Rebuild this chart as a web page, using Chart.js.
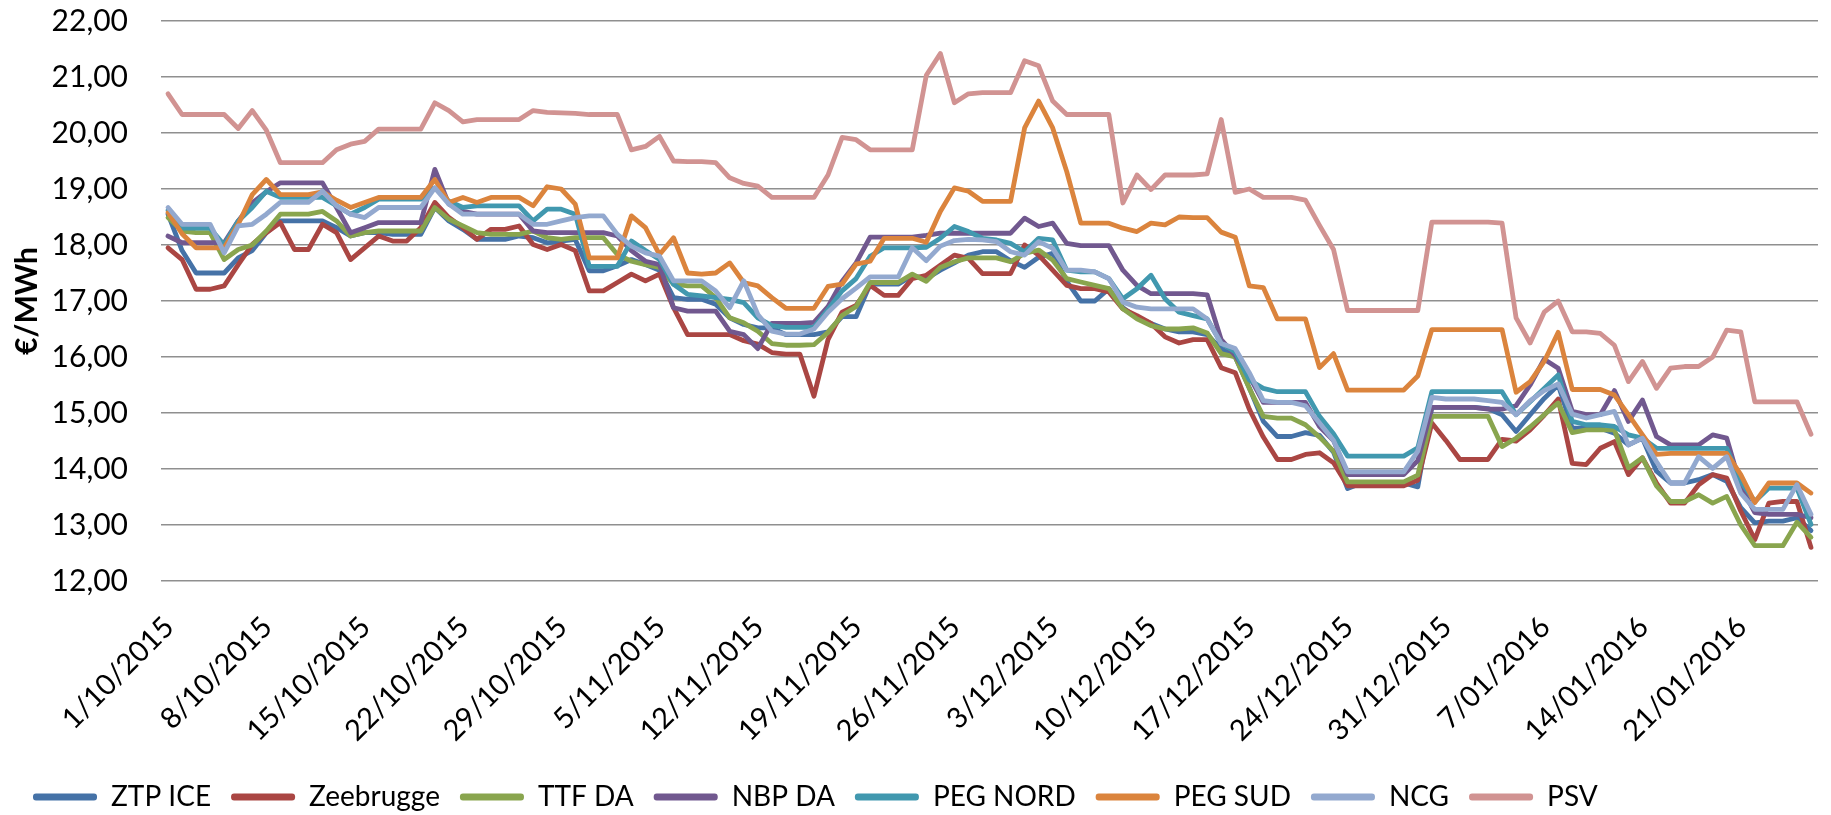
<!DOCTYPE html>
<html>
<head>
<meta charset="utf-8">
<script src="https://cdn.jsdelivr.net/npm/chart.js@4.4.1/dist/chart.umd.min.js"></script>
<style>
  html, body { margin: 0; padding: 0; background: #fff; }
  #prix { display: block; }
</style>
</head>
<body>
<canvas id="prix" width="1831" height="815"></canvas>
<script>
// one category per day, 1/10/2015 -> 26/01/2016
var jours = [];
var d = new Date(2015, 9, 1);
for (var k = 0; k < 118; k++) {
  jours.push(d.getDate() + "/" + String(d.getMonth() + 1).padStart(2, "0") + "/" + d.getFullYear());
  d.setDate(d.getDate() + 1);
}

var yTicks = [12, 13, 14, 15, 16, 17, 18, 19, 20, 21, 22];

var noms = ["ZTP ICE", "Zeebrugge", "TTF DA", "NBP DA", "PEG NORD", "PEG SUD", "NCG", "PSV"];
var couleurs = ["#4572A7", "#AA4643", "#89A54E", "#71588F", "#4198AF", "#DB843D", "#93A9CF", "#D19392"];

var ztp = [18.55, 17.90, 17.50, 17.50, 17.50, 17.77, 17.90, 18.22, 18.43, 18.43, 18.43, 18.43, 18.31, 18.16, 18.22, 18.22, 18.19, 18.19, 18.19, 18.67, 18.43, 18.28, 18.10, 18.10, 18.10, 18.16, 18.13, 18.04, 18.07,
  18.10, 17.54, 17.54, 17.63, 17.74, 17.65, 17.55, 17.06, 17.03, 17.03, 16.94, 16.70, 16.58, 16.52, 16.52, 16.40, 16.40, 16.40, 16.45, 16.72, 16.72, 17.30, 17.30, 17.30, 17.45, 17.40, 17.55, 17.68, 17.82,
  17.88, 17.88, 17.72, 17.60, 17.78, 17.85, 17.35, 17.00, 17.00, 17.22, 16.88, 16.70, 16.60, 16.50, 16.45,
  16.45, 16.40, 16.15, 16.00, 15.45, 14.85, 14.58, 14.58, 14.65, 14.60, 14.30, 13.65, 13.75, 13.75, 13.75, 13.75, 13.68, 15.10, 15.10, 15.10, 15.10, 15.08, 14.97,
  14.67, 14.97, 15.26, 15.50, 14.73, 14.73, 14.73, 14.64, 14.43, 14.55, 13.96, 13.75, 13.75, 13.81, 13.90, 13.78, 13.31, 13.04, 13.07, 13.07, 13.13, 12.90];

var zeebrugge = [17.95, 17.74, 17.21, 17.21, 17.27, 17.65, 18.01, 18.22, 18.40, 17.92, 17.92, 18.37, 18.22, 17.74, 17.95, 18.16, 18.07, 18.07, 18.31, 18.76, 18.49, 18.31, 18.10, 18.28, 18.28, 18.34, 18.01, 17.92, 18.01,
  17.90, 17.18, 17.18, 17.33, 17.48, 17.36, 17.48, 16.88, 16.40, 16.40, 16.40, 16.40, 16.29, 16.23, 16.08, 16.05, 16.05, 15.30, 16.31, 16.80, 16.92, 17.28, 17.10, 17.10, 17.40, 17.46, 17.64, 17.82, 17.76,
  17.49, 17.49, 17.49, 18.00, 17.82, 17.55, 17.28, 17.22, 17.22, 17.16, 16.86, 16.74, 16.60, 16.36, 16.25,
  16.31, 16.31, 15.81, 15.72, 15.07, 14.57, 14.17, 14.17, 14.26, 14.29, 14.11, 13.70, 13.70, 13.70, 13.70, 13.70, 13.80, 14.82, 14.51, 14.17, 14.17, 14.17, 14.53,
  14.50, 14.70, 14.96, 15.25, 14.10, 14.08, 14.37, 14.49, 13.90, 14.20, 13.75, 13.39, 13.39, 13.72, 13.90, 13.84, 13.25, 12.74, 13.39, 13.42, 13.42, 12.60];

var ttf = [18.49, 18.25, 18.22, 18.22, 17.74, 17.92, 18.00, 18.25, 18.55, 18.55, 18.55, 18.60, 18.43, 18.16, 18.22, 18.25, 18.25, 18.25, 18.25, 18.67, 18.46, 18.34, 18.22, 18.19, 18.19, 18.19, 18.25, 18.13, 18.10,
  18.13, 18.13, 18.13, 17.83, 17.71, 17.65, 17.60, 17.30, 17.27, 17.27, 17.06, 16.70, 16.61, 16.46, 16.24, 16.21, 16.21, 16.22, 16.44, 16.74, 16.90, 17.33, 17.33, 17.33, 17.48, 17.35, 17.60, 17.70, 17.77,
  17.77, 17.77, 17.70, 17.85, 17.91, 17.73, 17.40, 17.34, 17.28, 17.22, 16.86, 16.68, 16.56, 16.50, 16.50,
  16.52, 16.43, 16.06, 16.00, 15.44, 14.94, 14.91, 14.91, 14.79, 14.57, 14.32, 13.77, 13.77, 13.77, 13.77, 13.77, 13.89, 14.94, 14.94, 14.94, 14.94, 14.94, 14.40,
  14.55, 14.75, 14.97, 15.18, 14.65, 14.70, 14.70, 14.70, 14.02, 14.20, 13.70, 13.42, 13.42, 13.54, 13.39, 13.51, 13.00, 12.63, 12.63, 12.63, 13.05, 12.78];

var nbp = [18.16, 18.04, 18.04, 18.04, 18.04, 18.43, 18.75, 18.95, 19.11, 19.11, 19.11, 19.11, 18.67, 18.22, 18.31, 18.40, 18.40, 18.40, 18.40, 19.35, 18.73, 18.60, 18.55, 18.55, 18.55, 18.55, 18.25, 18.22, 18.22,
  18.22, 18.22, 18.22, 18.16, 17.90, 17.71, 17.65, 16.88, 16.82, 16.82, 16.82, 16.46, 16.40, 16.15, 16.60, 16.60, 16.60, 16.62, 16.90, 17.35, 17.68, 18.14, 18.14, 18.14, 18.14, 18.17, 18.21, 18.21, 18.21,
  18.21, 18.21, 18.21, 18.48, 18.33, 18.39, 18.03, 17.99, 17.99, 17.99, 17.55, 17.28, 17.13, 17.13, 17.13,
  17.13, 17.11, 16.31, 16.03, 15.66, 15.19, 15.19, 15.19, 15.19, 14.76, 14.51, 13.90, 13.90, 13.90, 13.90, 13.90, 14.15, 15.10, 15.10, 15.10, 15.10, 15.07, 15.07,
  15.13, 15.50, 15.96, 15.80, 15.03, 14.97, 14.97, 15.40, 14.85, 15.23, 14.58, 14.43, 14.43, 14.43, 14.61, 14.55, 13.69, 13.22, 13.19, 13.19, 13.19, 13.13];

var pegNord = [18.62, 18.30, 18.30, 18.30, 18.00, 18.43, 18.67, 18.96, 18.85, 18.85, 18.85, 18.85, 18.70, 18.55, 18.67, 18.82, 18.82, 18.82, 18.82, 19.02, 18.78, 18.67, 18.70, 18.70, 18.70, 18.70, 18.43, 18.64, 18.64,
  18.55, 17.62, 17.62, 17.62, 18.07, 17.90, 17.74, 17.30, 17.12, 17.09, 17.06, 17.03, 16.97, 16.70, 16.56, 16.53, 16.53, 16.53, 16.85, 17.18, 17.40, 17.80, 17.95, 17.95, 17.95, 17.96, 18.12, 18.33, 18.24,
  18.12, 18.09, 18.03, 17.88, 18.12, 18.09, 17.55, 17.52, 17.52, 17.40, 17.04, 17.22, 17.46, 17.04, 16.80,
  16.74, 16.68, 16.24, 16.09, 15.59, 15.44, 15.38, 15.38, 15.38, 14.94, 14.63, 14.23, 14.23, 14.23, 14.23, 14.23, 14.38, 15.38, 15.38, 15.38, 15.38, 15.38, 15.38,
  14.97, 15.20, 15.44, 15.68, 14.85, 14.79, 14.79, 14.76, 14.61, 14.55, 14.37, 14.37, 14.37, 14.37, 14.37, 14.37, 13.78, 13.42, 13.66, 13.66, 13.66, 13.01];

var pegSud = [18.58, 18.20, 17.95, 17.95, 17.95, 18.37, 18.90, 19.17, 18.90, 18.90, 18.90, 18.95, 18.80, 18.67, 18.76, 18.85, 18.85, 18.85, 18.85, 19.17, 18.76, 18.85, 18.76, 18.85, 18.85, 18.85, 18.70, 19.04, 19.00,
  18.73, 17.77, 17.77, 17.77, 18.52, 18.31, 17.83, 18.13, 17.50, 17.48, 17.50, 17.68, 17.33, 17.27, 17.06, 16.87, 16.87, 16.87, 17.26, 17.30, 17.66, 17.71, 18.12, 18.12, 18.12, 18.05, 18.60, 19.02, 18.96,
  18.78, 18.78, 18.78, 20.09, 20.57, 20.09, 19.31, 18.39, 18.39, 18.39, 18.30, 18.24, 18.39, 18.36, 18.50,
  18.49, 18.49, 18.23, 18.14, 17.27, 17.24, 16.68, 16.68, 16.68, 15.81, 16.06, 15.41, 15.41, 15.41, 15.41, 15.41, 15.66, 16.49, 16.49, 16.49, 16.49, 16.49, 16.49,
  15.37, 15.56, 15.92, 16.44, 15.42, 15.42, 15.42, 15.32, 14.97, 14.61, 14.26, 14.28, 14.28, 14.28, 14.28, 14.28, 13.90, 13.40, 13.75, 13.75, 13.75, 13.57];

var ncg = [18.67, 18.37, 18.37, 18.37, 17.86, 18.34, 18.37, 18.55, 18.76, 18.76, 18.76, 18.96, 18.70, 18.55, 18.49, 18.67, 18.67, 18.67, 18.67, 19.02, 18.73, 18.55, 18.55, 18.55, 18.55, 18.55, 18.37, 18.37, 18.43,
  18.49, 18.52, 18.52, 18.19, 17.98, 17.86, 17.80, 17.36, 17.36, 17.36, 17.18, 16.88, 17.36, 16.76, 16.46, 16.41, 16.41, 16.50, 16.80, 17.04, 17.23, 17.43, 17.43, 17.43, 17.95, 17.72, 17.98, 18.08, 18.10,
  18.09, 18.06, 17.88, 17.82, 18.06, 17.94, 17.55, 17.55, 17.52, 17.40, 16.98, 16.89, 16.86, 16.86, 16.86,
  16.86, 16.68, 16.24, 16.15, 15.72, 15.22, 15.19, 15.19, 15.13, 14.82, 14.51, 13.95, 13.95, 13.95, 13.95, 13.95, 14.32, 15.28, 15.25, 15.25, 15.25, 15.22, 15.19,
  14.97, 15.22, 15.40, 15.52, 14.98, 14.91, 14.97, 15.03, 14.43, 14.55, 14.13, 13.75, 13.75, 14.22, 14.01, 14.22, 13.57, 13.28, 13.28, 13.28, 13.72, 13.19];

var psv = [20.70, 20.33, 20.33, 20.33, 20.33, 20.08, 20.40, 20.05, 19.47, 19.47, 19.47, 19.47, 19.70, 19.80, 19.85, 20.07, 20.07, 20.07, 20.07, 20.54, 20.40, 20.20, 20.24, 20.24, 20.24, 20.24, 20.40, 20.37, 20.36,
  20.35, 20.33, 20.33, 20.33, 19.70, 19.76, 19.94, 19.50, 19.49, 19.49, 19.47, 19.20, 19.10, 19.05, 18.85, 18.85, 18.85, 18.85, 19.25, 19.92, 19.88, 19.70, 19.70, 19.70, 19.70, 21.03, 21.42, 20.54, 20.70,
  20.72, 20.72, 20.72, 21.29, 21.20, 20.57, 20.33, 20.33, 20.33, 20.33, 18.75, 19.25, 18.99, 19.25, 19.25,
  19.25, 19.27, 20.24, 18.94, 19.00, 18.85, 18.85, 18.85, 18.80, 18.35, 17.92, 16.83, 16.83, 16.83, 16.83, 16.83, 16.83, 18.41, 18.41, 18.41, 18.41, 18.41, 18.39,
  16.70, 16.25, 16.80, 17.00, 16.45, 16.45, 16.42, 16.21, 15.56, 15.92, 15.44, 15.80, 15.83, 15.83, 16.00, 16.48, 16.45, 15.20, 15.20, 15.20, 15.20, 14.62];

var series = [ztp, zeebrugge, ttf, nbp, pegNord, pegSud, ncg, psv];

var datasets = series.map(function (valeurs, i) {
  return {
    label: noms[i],
    data: valeurs,
    borderColor: couleurs[i],
    backgroundColor: couleurs[i],
    borderWidth: 4.8,
    pointRadius: 0,
    tension: 0,
    fill: false,
    borderJoinStyle: "round",
    borderCapStyle: "round",
    order: series.length - i   // later series drawn on top, like Excel
  };
});

var ctx = document.getElementById("prix");

var chart = new Chart(ctx, {
  type: "line",
  data: {
    labels: jours,
    datasets: datasets
  },
  options: {
    responsive: false,
    animation: false,
    devicePixelRatio: 1,
    layout: {
      padding: { left: 13, right: 13, top: 21, bottom: -6 }
    },
    plugins: {
      tooltip: { enabled: false },
      legend: {
        position: "bottom",
        align: "start",
        labels: {
          color: "#000",
          font: { family: "Lato", size: 28 },
          boxWidth: 64,
          boxHeight: 7,
          padding: 20,
          useBorderRadius: true,
          borderRadius: 3,
          sort: function (a, b) { return a.datasetIndex - b.datasetIndex; },
          generateLabels: function (chart) {
            var items = Chart.defaults.plugins.legend.labels.generateLabels(chart);
            items.forEach(function (it) {
              it.fillStyle = couleurs[it.datasetIndex];
              it.lineWidth = 0;
            });
            return items;
          }
        }
      }
    },
    scales: {
      x: {
        offset: true,
        grid: { display: false, drawTicks: false },
        border: { display: false },
        ticks: {
          autoSkip: false,
          minRotation: 45,
          maxRotation: 45,
          padding: 29,
          labelOffset: 1,
          color: "#000",
          font: { family: "Lato", size: 29 },
          callback: function (v, i) {
            return i % 7 === 0 ? jours[i] : null;
          }
        },
        afterFit: function (s) { s.height = 182; }
      },
      y: {
        min: yTicks[0],
        max: yTicks[yTicks.length - 1],
        afterBuildTicks: function (s) {
          s.ticks = yTicks.map(function (v) { return { value: v }; });
        },
        grid: { color: "#8f8f8f", lineWidth: 1.6, drawTicks: true, tickLength: 30, tickColor: "rgba(0,0,0,0)" },
        border: { display: false },
        ticks: {
          padding: 3,
          color: "#000",
          font: { family: "Lato", size: 30 },
          callback: function (v) { return v.toFixed(2).replace(".", ","); }
        },
        title: {
          display: true,
          text: "€/MWh",
          color: "#000",
          font: { family: "Lato", size: 30, weight: "bold", lineHeight: 0.95 },
          padding: 0
        },
        afterFit: function (s) { s.width = 148; }
      }
    }
  }
});
</script>
</body>
</html>
